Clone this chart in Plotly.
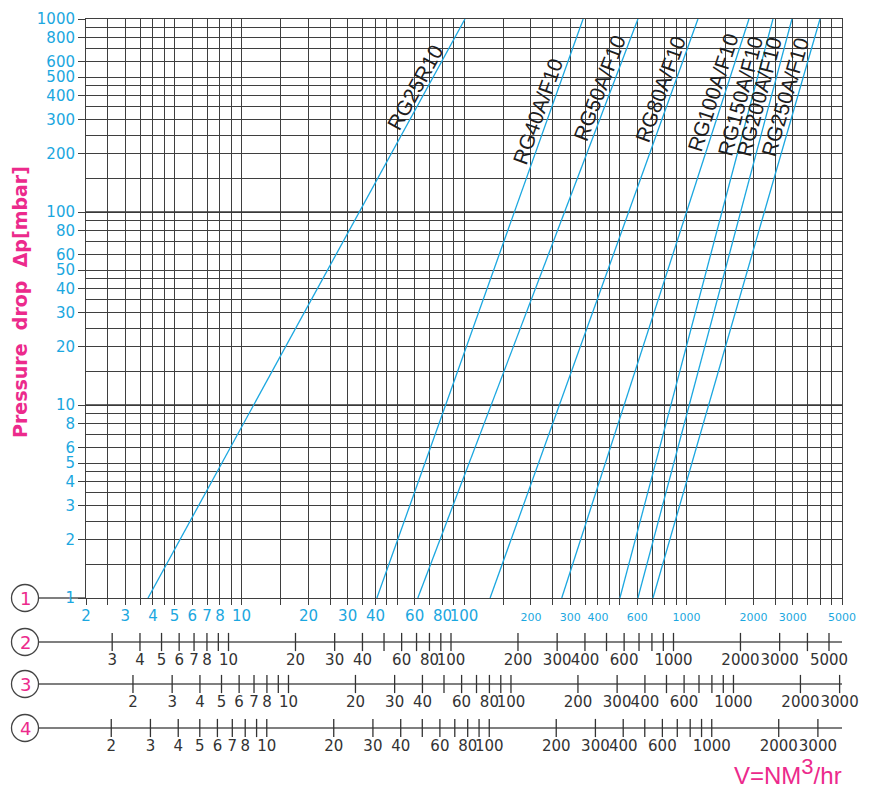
import math
import plotly.graph_objects as go

# ---------------- data ----------------
models = ["RG25R10", "RG40A/F10", "RG50A/F10", "RG80A/F10",
          "RG100A/F10", "RG150A/F10", "RG200A/F10", "RG250A/F10"]
# flow on scale 1 (Nm3/hr) at 1 mbar and at 1000 mbar pressure drop
flow_at_1mbar = [3.8, 40.6, 62, 131, 275, 502, 605, 707]
flow_at_1000mbar = [101, 343, 605, 1126, 1909, 2447, 2978, 3982]
dp_ends = [1, 1000]
label_dp = [440, 330, 440, 435, 415, 400, 395, 395]

x_labeled = [2, 3, 4, 5, 6, 7, 8, 10, 20, 30, 40, 60, 80, 100, 200, 300, 400, 600,
             1000, 2000, 3000, 5000]
x_minor = [2.5, 3.5, 4.5, 9, 15, 25, 35, 45, 50, 70, 90, 150, 250, 350, 450, 500,
           700, 800, 900, 1500, 2500, 3500, 4000, 4500]
y_labeled = [1, 2, 3, 4, 5, 6, 8, 10, 20, 30, 40, 50, 60, 80, 100, 200, 300, 400,
             500, 600, 800, 1000]
y_minor = [1.5, 2.5, 3.5, 4.5, 7, 9, 15, 25, 35, 45, 70, 90, 150, 250, 350, 450,
           700, 900]
y_decades = [10, 100]
x_min, x_max = 2, 5000
y_min, y_max = 1, 1000

# secondary scales: value on scale n = factor * value on scale 1
row_factors = [1.144, 0.615, 0.77]
row2_ticks = [3, 4, 5, 6, 7, 8, 9, 10, 20, 30, 40, 50, 60, 70, 80, 90, 100, 200, 300,
              400, 500, 600, 700, 800, 900, 1000, 2000, 3000, 4000, 5000]
row2_labels = [3, 4, 5, 6, 7, 8, 10, 20, 30, 40, 60, 80, 100, 200, 300, 400, 600,
               1000, 2000, 3000, 5000]
row3_ticks = [2, 3, 4, 5, 6, 7, 8, 9, 10, 20, 30, 40, 50, 60, 70, 80, 90, 100, 200,
              300, 400, 500, 600, 700, 800, 900, 1000, 2000, 3000]
row3_labels = [2, 3, 4, 5, 6, 7, 8, 10, 20, 30, 40, 60, 80, 100, 200, 300, 400, 600,
               1000, 2000, 3000]
row4_ticks = [2, 3, 4, 5, 6, 7, 8, 9, 10, 20, 30, 40, 50, 60, 70, 80, 90, 100, 200,
              300, 400, 500, 600, 700, 800, 900, 1000, 2000, 3000, 4000]
row4_labels = [2, 3, 4, 5, 6, 7, 8, 10, 20, 30, 40, 60, 80, 100, 200, 300, 400, 600,
               1000, 2000, 3000]
row_names = ["1", "2", "3", "4"]

# ---------------- layout geometry (pixels) ----------------
W, H = 869, 787
PL, PR, PT, PB = 86, 842, 19, 598
ROW_Y = [598, 642, 684, 728]
CIRCLE_X, CIRCLE_R = 25, 13.5
CYAN = "#1BA7E0"
MAGENTA = "#EC2A8C"
GRID = "#3f3f3f"
DARK = "#333333"
NUMFONT = "DejaVu Sans"

def fx(p):
    return p / W

def fy(p):
    return 1 - p / H

def lg(v):
    return math.log10(v)

px_per_dec_x = (PR - PL) / (lg(x_max) - lg(x_min))
px_per_dec_y = (PB - PT) / (lg(y_max) - lg(y_min))

fig = go.Figure()

# thicker decade lines
for d in y_decades:
    fig.add_trace(go.Scatter(x=[x_min, x_max], y=[d, d], mode="lines",
                             line=dict(color="#383838", width=1.7),
                             hoverinfo="skip", showlegend=False))

# model lines
for name, a, b in zip(models, flow_at_1mbar, flow_at_1000mbar):
    fig.add_trace(go.Scatter(x=[a, b], y=dp_ends, mode="lines",
                             line=dict(color=CYAN, width=1.3),
                             name=name, showlegend=False))

def tick_text(v, small):
    s = str(v)
    if small:
        return '<span style="font-size:11px">' + s + "</span>"
    return s

annotations = []
for name, a, b, ldp in zip(models, flow_at_1mbar, flow_at_1000mbar, label_dp):
    t = (lg(ldp) - lg(dp_ends[0])) / (lg(dp_ends[1]) - lg(dp_ends[0]))
    lv = lg(a) + t * (lg(b) - lg(a))
    dx = (lg(b) - lg(a)) * px_per_dec_x
    dy = (lg(dp_ends[1]) - lg(dp_ends[0])) * px_per_dec_y
    ang = math.degrees(math.atan2(dy, dx))
    annotations.append(dict(x=lv, y=lg(ldp), xref="x", yref="y", text=name,
                            showarrow=False, textangle=-ang, xshift=-12,
                            font=dict(family="Liberation Sans", size=21, color="#1e1e1e"),
                            xanchor="center", yanchor="middle"))

fig.update_layout(
    xaxis=dict(type="log", range=[lg(x_min), lg(x_max)], domain=[fx(PL), fx(PR)],
               anchor="y", tickmode="array", tickvals=x_labeled,
               ticktext=[tick_text(v, v >= 200) for v in x_labeled],
               tickangle=0, ticks="outside", ticklen=6, tickcolor=GRID, tickwidth=1,
               ticklabelstandoff=-2,
               tickfont=dict(family=NUMFONT, size=15, color=CYAN),
               showgrid=True, gridcolor=GRID, gridwidth=1,
               minor=dict(tickmode="array", tickvals=x_minor, showgrid=True,
                          gridcolor=GRID, gridwidth=1, ticks="outside", ticklen=6,
                          tickcolor=GRID),
               showline=True, linecolor=GRID, linewidth=1, mirror=True,
               zeroline=False, automargin=False, fixedrange=True),
    yaxis=dict(type="log", range=[lg(y_min), lg(y_max)], domain=[fy(PB), fy(PT)],
               anchor="x", tickmode="array", tickvals=y_labeled,
               ticktext=[str(v) for v in y_labeled],
               ticks="outside", ticklen=7, tickcolor=GRID, tickwidth=1,
               tickfont=dict(family=NUMFONT, size=15, color=CYAN),
               showgrid=True, gridcolor=GRID, gridwidth=1,
               minor=dict(tickmode="array", tickvals=y_minor, showgrid=True,
                          gridcolor=GRID, gridwidth=1, ticks=""),
               showline=True, linecolor=GRID, linewidth=1, mirror=True,
               zeroline=False, automargin=False, fixedrange=True),
)

# secondary scales rows 2..4
rows = [(row2_ticks, row2_labels), (row3_ticks, row3_labels), (row4_ticks, row4_labels)]
layout_axes = {}
for i, ((ticks, labels), f) in enumerate(zip(rows, row_factors)):
    n = i + 2
    yc = ROW_Y[i + 1]
    layout_axes["xaxis%d" % n] = dict(
        type="log", range=[lg(x_min * f), lg(x_max * f)], domain=[fx(PL), fx(PR)],
        anchor="y%d" % n, tickmode="array", tickvals=labels,
        ticktext=[str(v) for v in labels], tickangle=0, ticks="",
        tickfont=dict(family=NUMFONT, size=15, color=DARK),
        showgrid=False, showline=False, zeroline=False, automargin=False,
        fixedrange=True)
    layout_axes["yaxis%d" % n] = dict(
        range=[-1, 1], domain=[fy(yc + 7), fy(yc - 7)], anchor="x%d" % n,
        visible=False, fixedrange=True)
    fig.add_trace(go.Scatter(
        x=ticks, y=[0] * len(ticks), xaxis="x%d" % n, yaxis="y%d" % n,
        mode="markers", cliponaxis=False,
        marker=dict(symbol="line-ns", size=13,
                    line=dict(width=1.3, color=DARK)),
        hoverinfo="skip", showlegend=False))
fig.update_layout(**layout_axes)

shapes = []
for i, yc in enumerate(ROW_Y):
    x_start = CIRCLE_X + CIRCLE_R
    shapes.append(dict(type="line", xref="paper", yref="paper",
                       x0=fx(x_start), x1=fx(PR if i > 0 else PL), y0=fy(yc), y1=fy(yc),
                       line=dict(color="#555555", width=1.3), layer="below"))
    shapes.append(dict(type="circle", xref="paper", yref="paper",
                       x0=fx(CIRCLE_X - CIRCLE_R), x1=fx(CIRCLE_X + CIRCLE_R),
                       y0=fy(yc + CIRCLE_R), y1=fy(yc - CIRCLE_R),
                       line=dict(color="#444444", width=1.3), fillcolor="white"))
    annotations.append(dict(x=fx(CIRCLE_X), y=fy(yc), xref="paper", yref="paper",
                            text=row_names[i], showarrow=False,
                            font=dict(family=NUMFONT, size=18, color=MAGENTA),
                            xanchor="center", yanchor="middle"))

annotations.append(dict(x=fx(20), y=fy(302), xref="paper", yref="paper",
                        text="<b>Pressure  drop  Δp[mbar]</b>", textangle=-90,
                        showarrow=False,
                        font=dict(family=NUMFONT, size=19, color=MAGENTA),
                        xanchor="center", yanchor="middle"))
annotations.append(dict(x=fx(788), y=fy(771), xref="paper", yref="paper",
                        text='V=NM<sup><span style="font-size:22px">3</span></sup>/hr',
                        showarrow=False,
                        font=dict(family="Liberation Sans", size=24, color=MAGENTA),
                        xanchor="center", yanchor="middle"))

fig.update_layout(
    template="none",
    width=W, height=H, autosize=False,
    margin=dict(l=0, r=0, t=0, b=0, pad=0),
    paper_bgcolor="white", plot_bgcolor="white",
    showlegend=False, shapes=shapes, annotations=annotations,
)

fig.write_html("out.html", config={"displayModeBar": False},
               post_script="document.body.style.margin='0px';")
